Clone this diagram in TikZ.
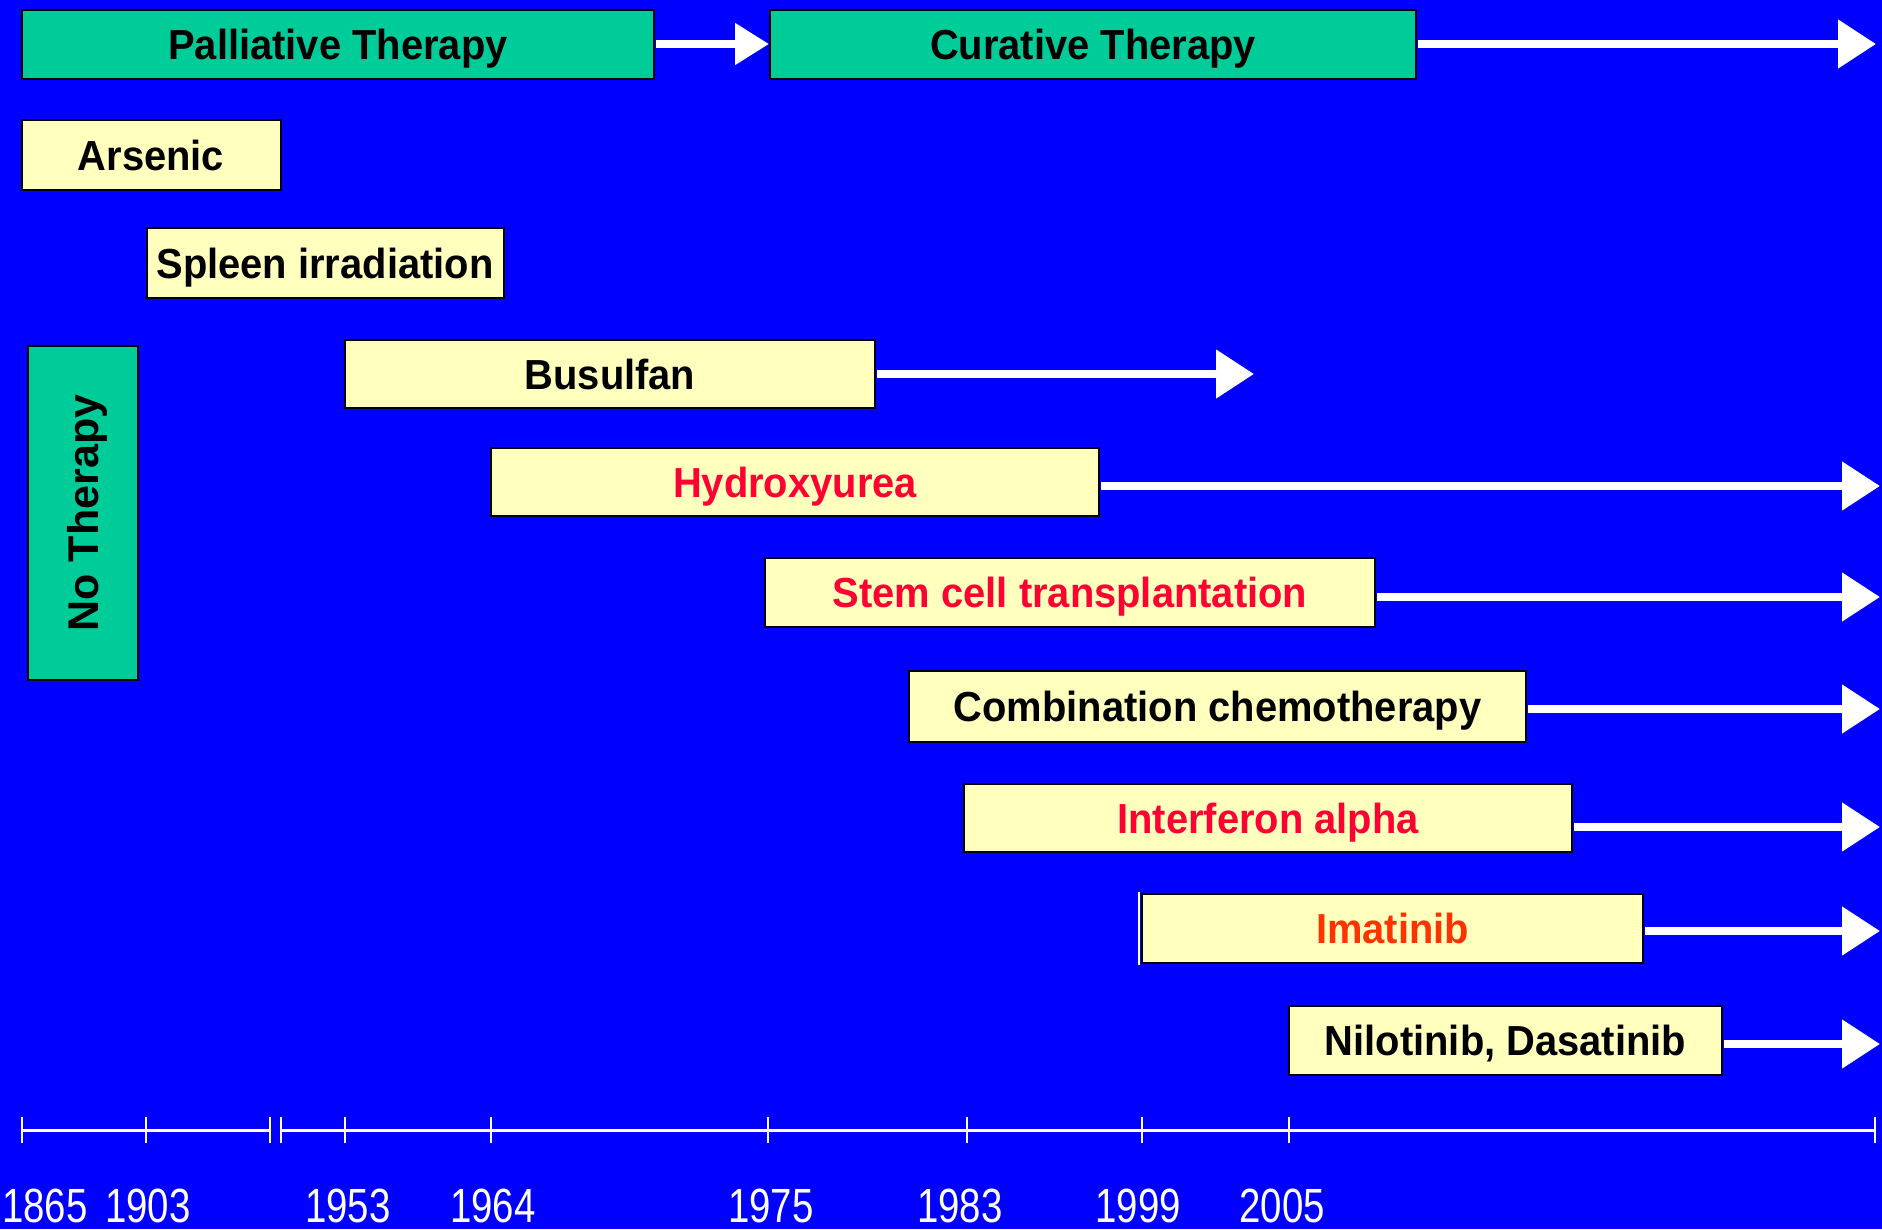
\documentclass[tikz,border=0pt]{standalone}
\usepackage{fontspec}
\setmainfont{Liberation Sans}
\newfontfamily\boxfont[FakeStretch=0.95]{Liberation Sans}
\newfontfamily\yearfont[FakeStretch=0.8]{Liberation Sans}
\usetikzlibrary{arrows.meta}
\definecolor{bgblue}{RGB}{0,0,255}
\definecolor{tgreen}{RGB}{0,204,153}
\definecolor{tyellow}{RGB}{255,255,190}
\definecolor{tred}{RGB}{255,0,51}
\definecolor{torange}{RGB}{255,51,0}
\begin{document}
\begin{tikzpicture}[x=1pt,y=-1pt,
  box/.style={draw=black, line width=2pt, inner sep=0pt, text=black, text depth=0pt,
    font=\boxfont\fontsize{42}{46}\selectfont\bfseries},
  gbox/.style={box, fill=tgreen},
  ybox/.style={box, fill=tyellow},
  arr/.style={draw=white, line width=8pt, shorten <=1pt,
    -{Triangle[length=38pt,width=47pt]}},
  arrsmall/.style={draw=white, line width=8pt, shorten <=1pt,
    -{Triangle[length=34pt,width=40pt]}},
  axisline/.style={draw=white, line width=3pt},
  tickmark/.style={draw=white, line width=2pt},
  year/.style={text=white, inner sep=0pt,
    font=\yearfont\fontsize{48}{52}\selectfont}
]
% background
\fill[bgblue] (0,0) rectangle (1882,1229);
\useasboundingbox (0,0) rectangle (1882,1229);

% phase boxes
\node[gbox, minimum width=632pt, minimum height=69pt] (pall) at (338,44) {Palliative Therapy};
\node[gbox, minimum width=646pt, minimum height=69pt] (cur) at (1093,44) {Curative Therapy};
\node[gbox, minimum width=110pt, minimum height=334pt] (noth) at (83,513) {};
\node[rotate=90, inner sep=0pt, text depth=0pt, font=\fontsize{43}{46}\selectfont\bfseries, text=black] (nothtxt) at (83,513) {No Therapy};

% therapy boxes
\node[ybox, minimum width=259pt, minimum height=70pt] (ars) at (151,155) {Arsenic};
\node[ybox, minimum width=357pt, minimum height=70pt] (spl) at (325,263) {Spleen irradiation};
\node[ybox, minimum width=530pt, minimum height=68pt] (bus) at (610,374) {Busulfan};
\node[ybox, minimum width=608pt, minimum height=68pt, text=tred] (hyd) at (795,482) {Hydroxyurea};
\node[ybox, minimum width=610pt, minimum height=69pt, text=tred] (stem) at (1070,592) {Stem cell transplantation};
\node[ybox, minimum width=617pt, minimum height=71pt] (comb) at (1217.5,706.5) {Combination chemotherapy};
\node[ybox, minimum width=608pt, minimum height=68pt, text=tred] (intf) at (1268,818) {Interferon alpha};
\node[ybox, minimum width=501pt, minimum height=69pt, text=torange] (ima) at (1392.5,928.5) {Imatinib};
\node[ybox, minimum width=433pt, minimum height=69pt] (nil) at (1505.5,1040.5) {Nilotinib, Dasatinib};
\draw[white, line width=1.5pt] ([xshift=-2pt,yshift=1pt]ima.north west) -- ([xshift=-2pt,yshift=-1pt]ima.south west);

% arrow ends
\coordinate (curend) at (1876,44);
\coordinate (busend) at (1254,374);
\coordinate (hydend) at (1880,486);
\coordinate (stemend) at (1880,597);
\coordinate (combend) at (1880,709);
\coordinate (intfend) at (1880,827);
\coordinate (imaend) at (1880,931);
\coordinate (nilend) at (1880,1044);

% arrows
\draw[arrsmall] (pall.east) -- (cur.west);
\draw[arr] (cur.east) -- (curend);
\draw[arr] (bus.east) -- (busend);
\draw[arr] (hyd.east |- hydend) -- (hydend);
\draw[arr] (stem.east |- stemend) -- (stemend);
\draw[arr] (comb.east |- combend) -- (combend);
\draw[arr] (intf.east |- intfend) -- (intfend);
\draw[arr] (ima.east |- imaend) -- (imaend);
\draw[arr] (nil.east |- nilend) -- (nilend);

% time axis
\coordinate (t1865) at (21.6,1130);
\coordinate (t1903) at (146,1130);
\coordinate (tbrkA) at (270,1130);
\coordinate (tbrkB) at (281,1130);
\coordinate (t1953) at (344.5,1130);
\coordinate (t1964) at (491,1130);
\coordinate (t1975) at (768,1130);
\coordinate (t1983) at (967,1130);
\coordinate (t1999) at (1142,1130);
\coordinate (t2005) at (1289,1130);
\coordinate (tend) at (1875,1130);
\draw[axisline] (t1865) -- (tbrkA);
\draw[axisline] (tbrkB) -- (tend);
\foreach \t in {t1865,t1903,tbrkA,tbrkB,t1953,t1964,t1975,t1983,t1999,t2005,tend}
  \draw[tickmark] (\t) ++(0,-13) -- ++(0,26);

% year labels
\node[year] (y1865) at (45,1206) {1865};
\node[year] (y1903) at (148,1206) {1903};
\node[year] (y1953) at (348,1206) {1953};
\node[year] (y1964) at (493,1206) {1964};
\node[year] (y1975) at (771,1206) {1975};
\node[year] (y1983) at (960,1206) {1983};
\node[year] (y1999) at (1138,1206) {1999};
\node[year] (y2005) at (1282,1206) {2005};
\end{tikzpicture}
\end{document}
